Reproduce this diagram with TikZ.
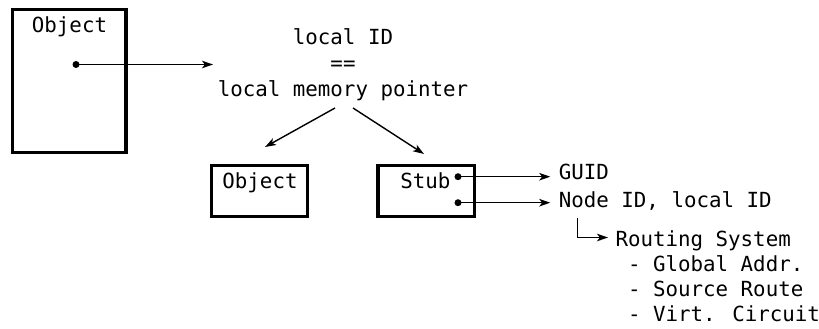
\documentclass[tikz,border=0pt]{standalone}
\usepackage{fontspec}
\setmainfont{DejaVu Sans Mono}
\usetikzlibrary{arrows.meta}
\begin{document}
\begin{tikzpicture}[x=1pt,y=-1pt,
  every node/.style={inner sep=0pt,outer sep=0pt,font=\fontsize{20.8}{25.75}\selectfont},
  box/.style={draw,line width=3.8pt,rectangle},
  link/.style={line width=1.4pt,-{Stealth[length=11pt,width=7.5pt,inset=2.8pt]}},
  pin/.style={fill=black},
]
\useasboundingbox (0,0) rectangle (819,329);

% object holding a local pointer
\node[box,minimum width=113.5pt,minimum height=143pt] (objA) at (69.25,81) {};
\node[anchor=base] (objAtxt) at (69.5,32.5) {Object};
\coordinate (pA) at (76,64.5);
\fill[pin] (pA) circle (3.5);

% identity statement (base anchor sits on the last line)
\node[align=center,anchor=base] (ident) at (343,96) {local ID\\==\\local memory pointer};
\coordinate (identIn) at (213,64.5);
\coordinate (identL) at (335,108);
\coordinate (identR) at (353,108);

% local object and stub
\node[box,minimum width=96pt,minimum height=51pt] (objB) at (259.5,191) {};
\node[anchor=base] (objBtxt) at (260,188) {Object};
\node[box,minimum width=96.5pt,minimum height=51pt] (stub) at (426.25,191) {};
\node[anchor=base east] (stubtxt) at (450.5,188) {Stub};
\coordinate (objBin) at (265,147);
\coordinate (stubIn) at (424,154);
\coordinate (s1) at (458,176.7);
\coordinate (s2) at (458,202.7);
\fill[pin] (s1) circle (3.5);
\fill[pin] (s2) circle (3.5);

% stub contents
\node[anchor=base west] (guid) at (558.8,179.5) {GUID};
\node[anchor=base west] (nid) at (558.8,207) {Node ID, local ID};
\node[anchor=base west,align=left,font=\fontsize{20.8}{25}\selectfont] (route) at (615.5,321.7)
  {Routing System\\\ - Global Addr.\\\ - Source Route\\\ - Virt. Circuit};
\coordinate (bendTop) at (577.7,218);
\coordinate (bendEnd) at (608,237.5);

% connectors
\draw[link] (pA) -- (identIn);
\draw[link] (identL) -- (objBin);
\draw[link] (identR) -- (stubIn);
\draw[link,shorten >=8.5pt] (s1) -- (s1 -| guid.west);
\draw[link,shorten >=8.5pt] (s2) -- (s2 -| nid.west);
\draw[link] (bendTop) |- (bendEnd);
\end{tikzpicture}
\end{document}
